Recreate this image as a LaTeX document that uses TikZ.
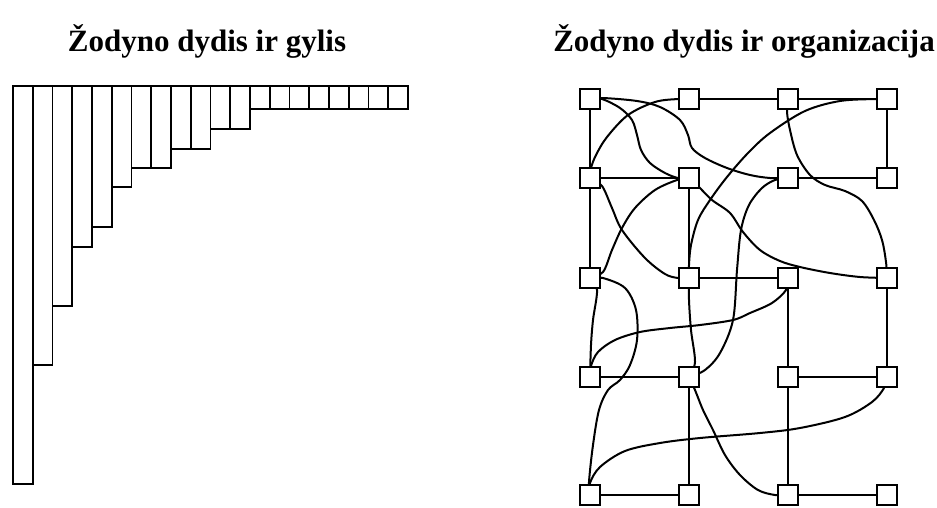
\documentclass[tikz,border=0pt]{standalone}
\usepackage{fontspec}
\setmainfont{Liberation Serif}
\pgfdeclarelayer{edges}
\pgfsetlayers{edges,main}
\begin{document}
\begin{tikzpicture}[x=1pt,y=-1pt,
  box/.style={draw, line width=2.1pt, fill=white, minimum size=20.5pt, inner sep=0pt},
  link/.style={line width=2pt, line cap=round, line join=round},
  bar/.style={draw, line width=1.9pt},
  ttl/.style={anchor=base, font=\bfseries\fontsize{31}{36}\selectfont}]
\useasboundingbox (0,0) rectangle (937,507);
% titles
\node[ttl] (t1) at (207,51) {Žodyno dydis ir gylis};
\node[ttl] (t2) at (744,51) {Žodyno dydis ir organizacija};
% left: bars
\foreach \b [count=\i from 0] in {484,365,306,247,227,187,168,168,149,149,129,129,109,109,109,109,109,109,109,109}
  \draw[bar] ({13+19.75*\i},86) rectangle ({32.75+19.75*\i},\b);
% right: grid nodes
\foreach \c/\x in {0/590,1/689,2/788,3/887}
  \foreach \r/\y in {0/99,1/178,2/278,3/377,4/495}
    \node[box] (n\c\r) at (\x,\y) {};
\begin{pgfonlayer}{edges}
% straight links
\draw[link] (n10.center) -- (n20.center);
\draw[link] (n20.center) -- (n30.center);
\draw[link] (n30.center) -- (n31.center);
\draw[link] (n21.center) -- (n31.center);
\draw[link] (n00.center) -- (n01.center);
\draw[link] (n01.center) -- (n02.center);
\draw[link] (n01.center) -- (n11.center);
\draw[link] (n11.center) -- (n12.center);
\draw[link] (n12.center) -- (n22.center);
\draw[link] (n03.center) -- (n13.center);
\draw[link] (n13.center) -- (n14.center);
\draw[link] (n04.center) -- (n14.center);
\draw[link] (n22.center) -- (n23.center);
\draw[link] (n23.center) -- (n24.center);
\draw[link] (n23.center) -- (n33.center);
\draw[link] (n24.center) -- (n34.center);
\draw[link] (n32.center) -- (n33.center);
% curved links
\draw[link] plot[smooth, tension=0.55] coordinates {(n00.center) (602,99) (620,108) (632,120) (637,135) (641,150) (650,163) (665,173) (678,178) (n11.center)};
\draw[link] plot[smooth, tension=0.55] coordinates {(n00.center) (603,98) (637,101) (660,107) (680,120) (688,135) (692,148) (705,158) (727,168) (750,175) (770,178) (n21.center)};
\draw[link] plot[smooth, tension=0.55] coordinates {(n10.center) (678,99) (655,102) (628,115) (607,137) (596,155) (591,168) (n01.center)};
\draw[link] plot[smooth, tension=0.55] coordinates {(n30.center) (876,99) (840,101) (805,111) (770,133) (748,153) (727,177) (710,200) (698,220) (691,245) (689,265) (n12.center)};
\draw[link] plot[smooth, tension=0.55] coordinates {(n20.center) (787,112) (790,130) (797,155) (810,175) (825,185) (845,191) (862,201) (874,220) (882,240) (886,262) (n32.center)};
\draw[link] plot[smooth, tension=0.55] coordinates {(n11.center) (698,186) (712,200) (730,213) (743,232) (760,250) (780,261) (800,267) (830,273) (860,277) (n32.center)};
\draw[link] plot[smooth, tension=0.55] coordinates {(n01.center) (602,186) (612,208) (622,230) (645,258) (665,274) (678,278) (n12.center)};
\draw[link] plot[smooth, tension=0.55] coordinates {(n11.center) (677,180) (655,190) (635,208) (622,228) (612,250) (603,272) (n02.center)};
\draw[link] plot[smooth, tension=0.55] coordinates {(n02.center) (597,290) (593,320) (591,345) (n03.center)};
\draw[link] plot[smooth, tension=0.55] coordinates {(n02.center) (603,278) (625,288) (636,310) (637,340) (630,365) (620,380) (608,390) (599,410) (593,445) (589,482) (n04.center)};
\draw[link] plot[smooth, tension=0.55] coordinates {(n22.center) (786,290) (772,303) (750,313) (733,320) (700,325) (670,328) (640,332) (615,340) (598,352) (591,366) (n03.center)};
\draw[link] plot[smooth, tension=0.55] coordinates {(n04.center) (590,483) (600,467) (625,451) (660,443) (700,438) (760,433) (800,428) (845,417) (872,402) (884,388) (n33.center)};
\draw[link] plot[smooth, tension=0.55] coordinates {(n21.center) (775,180) (762,188) (749,205) (741,230) (737,270) (733,320) (720,353) (705,370) (n13.center)};
\draw[link] plot[smooth, tension=0.55] coordinates {(n12.center) (689,300) (691,330) (695,362) (n13.center)};
\draw[link] plot[smooth, tension=0.55] coordinates {(n13.center) (695,390) (703,410) (713,430) (725,455) (740,475) (758,490) (775,495) (n24.center)};
\end{pgfonlayer}
\end{tikzpicture}
\end{document}
